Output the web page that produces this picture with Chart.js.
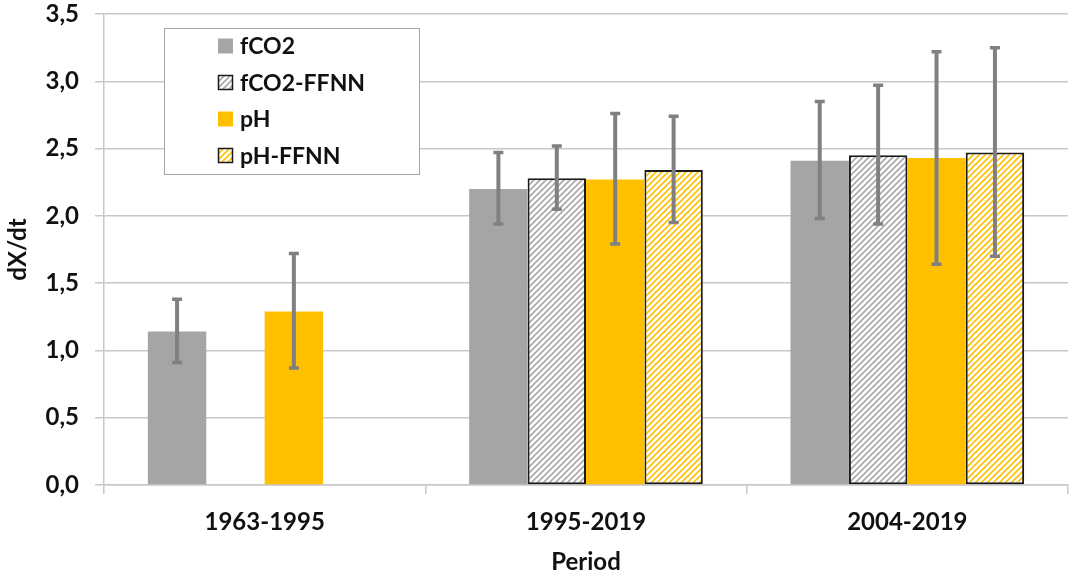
<!DOCTYPE html>
<html>
<head>
    <title>dX/dt per period</title>
    <script src="https://cdn.jsdelivr.net/npm/chart.js@4.4.1/dist/chart.umd.min.js"></script>
    <style>
        body { margin: 0; background: #fff; }
        #wrap { width: 1070px; height: 574px; }
    </style>
</head>
<body>
    <div id="wrap"><canvas id="myChart"></canvas></div>

    <script>
        // categories and values
        var categories = ['1963-1995', '1995-2019', '2004-2019'];
        var seriesNames = ['fCO2', 'fCO2-FFNN', 'pH', 'pH-FFNN'];

        var fco2 = [1.14, 2.20, 2.41];
        var fco2Low = [0.91, 1.94, 1.98];
        var fco2High = [1.38, 2.47, 2.85];

        var fco2Ffnn = [null, 2.28, 2.45];
        var fco2FfnnLow = [null, 2.05, 1.94];
        var fco2FfnnHigh = [null, 2.52, 2.97];

        var ph = [1.29, 2.27, 2.43];
        var phLow = [0.87, 1.79, 1.64];
        var phHigh = [1.72, 2.76, 3.22];

        var phFfnn = [null, 2.34, 2.47];
        var phFfnnLow = [null, 1.95, 1.70];
        var phFfnnHigh = [null, 2.74, 3.25];

        var GRAY = '#A5A5A5';
        var YELLOW = '#FFC000';
        var ERR = '#808080';
        var FONT = 'Lato';

        // diagonal hatch fill
        function hatch(color) {
            var c = document.createElement('canvas');
            c.width = 6; c.height = 6;
            var g = c.getContext('2d');
            g.fillStyle = '#fff';
            g.fillRect(0, 0, 6, 6);
            g.strokeStyle = color;
            g.lineWidth = 1.6;
            g.beginPath();
            g.moveTo(-1, 7); g.lineTo(7, -1);
            g.moveTo(-4, 4); g.lineTo(4, -4);
            g.moveTo(2, 10); g.lineTo(10, 2);
            g.stroke();
            return g.createPattern(c, 'repeat');
        }

        var fills = [GRAY, hatch('#A8A8A8'), YELLOW, hatch(YELLOW)];
        var lows = [fco2Low, fco2FfnnLow, phLow, phFfnnLow];
        var highs = [fco2High, fco2FfnnHigh, phHigh, phFfnnHigh];
        var values = [fco2, fco2Ffnn, ph, phFfnn];

        var datasets = values.map(function (v, i) {
            var hatched = (i % 2 === 1);
            return {
                label: seriesNames[i],
                data: v,
                backgroundColor: fills[i],
                borderColor: hatched ? '#1a1a1a' : fills[i],
                borderWidth: hatched ? 2 : 0,
                borderSkipped: false,
                categoryPercentage: 0.727,
                barPercentage: 1.0
            };
        });

        // error bars drawn through the y scale
        var errorBars = {
            id: 'errorBars',
            afterDatasetsDraw: function (chart) {
                var ctx = chart.ctx;
                var y = chart.scales.y;
                ctx.save();
                ctx.strokeStyle = ERR;
                chart.data.datasets.forEach(function (ds, i) {
                    var meta = chart.getDatasetMeta(i);
                    meta.data.forEach(function (bar, j) {
                        if (ds.data[j] === null) return;
                        var top = y.getPixelForValue(highs[i][j]);
                        var bot = y.getPixelForValue(lows[i][j]);
                        ctx.lineWidth = 4;
                        ctx.beginPath();
                        ctx.moveTo(bar.x, top);
                        ctx.lineTo(bar.x, bot);
                        ctx.stroke();
                        ctx.lineWidth = 3.5;
                        ctx.beginPath();
                        ctx.moveTo(bar.x - 5, top); ctx.lineTo(bar.x + 5, top);
                        ctx.moveTo(bar.x - 5, bot); ctx.lineTo(bar.x + 5, bot);
                        ctx.stroke();
                    });
                });
                ctx.restore();
            }
        };

        // legend box inside the plot
        var boxLegend = {
            id: 'boxLegend',
            afterDraw: function (chart) {
                var ctx = chart.ctx;
                ctx.save();
                ctx.fillStyle = '#fff';
                ctx.fillRect(164, 28, 255, 146);
                ctx.strokeStyle = '#A6A6A6';
                ctx.lineWidth = 1;
                ctx.strokeRect(164.5, 28.5, 255, 146);
                ctx.font = 'bold 23px ' + FONT;
                ctx.textBaseline = 'middle';
                seriesNames.forEach(function (name, i) {
                    var cy = 46 + i * 36.5;
                    ctx.fillStyle = fills[i];
                    ctx.fillRect(218, cy - 7.5, 15, 15);
                    if (i % 2 === 1) {
                        ctx.strokeStyle = '#1a1a1a';
                        ctx.lineWidth = 1.5;
                        ctx.strokeRect(218.5, cy - 7, 14, 14);
                    }
                    ctx.fillStyle = '#111';
                    ctx.fillText(name, 240, cy + 1);
                });
                ctx.restore();
            }
        };

        var config = {
            type: 'bar',
            data: { labels: categories, datasets: datasets },
            options: {
                responsive: true,
                maintainAspectRatio: false,
                animation: false,
                layout: { padding: { top: 0, right: 2, left: 0, bottom: 0 } },
                plugins: {
                    legend: { display: false },
                    tooltip: { enabled: false }
                },
                scales: {
                    x: {
                        afterFit: function (s) { s.height = 89; },
                        grid: {
                            offset: true,
                            color: function (c) { return c.index === 3 ? '#C8C8C8' : 'rgba(0,0,0,0)'; },
                            lineWidth: 1.5,
                            tickColor: '#C8C8C8',
                            tickLength: 9
                        },
                        border: { color: '#C8C8C8', width: 1.5 },
                        ticks: {
                            color: '#111',
                            padding: 14,
                            font: { family: FONT, size: 24, weight: 'bold' }
                        },
                        title: {
                            display: true,
                            text: 'Period',
                            color: '#111',
                            padding: { top: 0, bottom: -3 },
                            font: { family: FONT, size: 24, weight: 'bold' }
                        }
                    },
                    y: {
                        min: 0,
                        max: 3.5,
                        afterFit: function (s) {
                            s.width = 104;
                            s.paddingTop = 14;
                            s.paddingBottom = 0;
                        },
                        grid: { color: '#C8C8C8', lineWidth: 1.5, tickLength: 9 },
                        border: { color: '#C8C8C8', width: 1.5 },
                        ticks: {
                            stepSize: 0.5,
                            color: '#111',
                            padding: 16,
                            font: { family: FONT, size: 24, weight: 'bold' },
                            callback: function (v) { return v.toFixed(1).replace('.', ','); }
                        },
                        title: {
                            display: true,
                            text: 'dX/dt',
                            color: '#111',
                            padding: { top: 4, bottom: 0 },
                            font: { family: FONT, size: 24, weight: 'bold' }
                        }
                    }
                }
            },
            plugins: [errorBars, boxLegend]
        };

        var ctx = document.getElementById('myChart').getContext('2d');
        var chart = new Chart(ctx, config);
    </script>
</body>
</html>
